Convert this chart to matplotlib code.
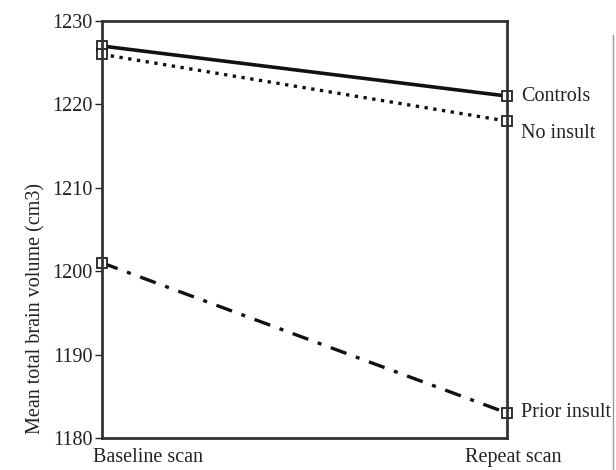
import matplotlib.pyplot as plt

# mean total brain volume (cm3) at the two scans
scans = ['Baseline scan', 'Repeat scan']
groups = ['Controls', 'No insult', 'Prior insult']
controls = [1227, 1221]
no_insult = [1226, 1218]
prior_insult = [1201, 1183]
label_y = [1221, 1216.5, 1183]

plt.rcParams['font.family'] = ['Liberation Serif', 'DejaVu Serif']
fs = 14.5

fig = plt.figure(figsize=(6.16, 4.70), dpi=100)
ax = fig.add_axes([102 / 616, 1 - 438 / 470, 405 / 616, 417 / 470])

xs = [0, 1]
styles = [('-', 2.6), (':', 2.4), ((0, (5, 3, 1.2, 3)), 2.4)]
for vals, (ls, lw) in zip([controls, no_insult, prior_insult], styles):
    ax.plot(xs, vals, color='#111111', linestyle=ls, linewidth=lw,
            marker='s', markersize=6.5, markerfacecolor='white',
            markeredgecolor='#222222', markeredgewidth=1.3, clip_on=False)

for name, y in zip(groups, label_y):
    ax.text(1.035, y, name, transform=ax.get_yaxis_transform(), fontsize=fs,
            va='center', ha='left', color='#222222')

ax.set_xlim(0, 1)
ax.set_ylim(1180, 1230)
ax.set_yticks([1180, 1190, 1200, 1210, 1220, 1230])
ax.set_xticks([])
ax.tick_params(axis='y', length=5, width=1, pad=2, labelsize=fs, colors='#222222')
for s in ax.spines.values():
    s.set_linewidth(2)
    s.set_color('#333333')

ax.text(-0.022, -0.025, scans[0], transform=ax.transAxes, ha='left', va='top',
        fontsize=fs, color='#222222')
ax.text(1.015, -0.025, scans[1], transform=ax.transAxes, ha='center', va='top',
        fontsize=fs, color='#222222')

ax.set_ylabel('Mean total brain volume (cm3)', fontsize=fs, color='#222222')
ax.yaxis.set_label_coords(-0.14, 0.31)

# thin gray border line on the right edge of the original image
fig.add_artist(plt.Line2D([613 / 616, 613 / 616], [0, 1 - 35 / 470],
                          color='#999999', linewidth=1))

fig.savefig('out.png', dpi=100)
